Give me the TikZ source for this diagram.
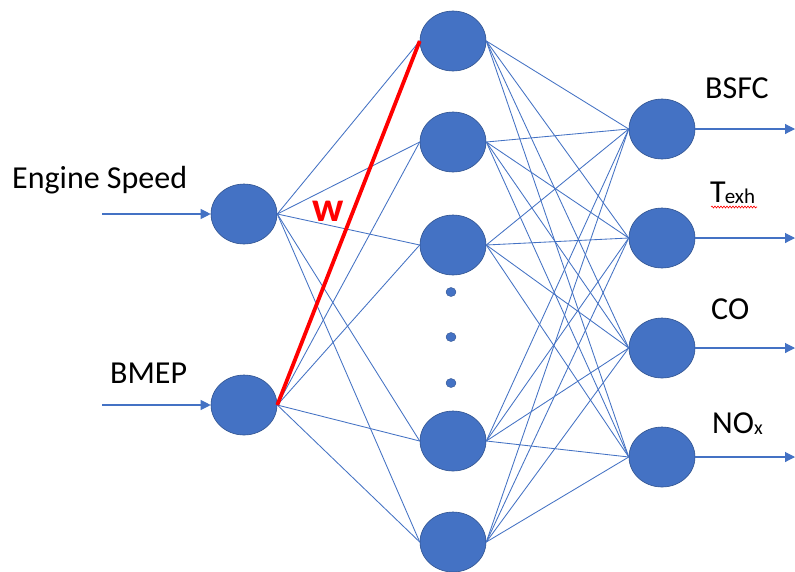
\documentclass[tikz,border=0pt]{standalone}
\usepackage{fontspec}
\setmainfont{Carlito}
\usetikzlibrary{arrows.meta,shapes.geometric,decorations.pathmorphing}
\definecolor{neuronfill}{HTML}{4472C4}
\definecolor{neuronrim}{HTML}{2F528F}
\definecolor{linkblue}{HTML}{4472C4}

\begin{document}
\begin{tikzpicture}[x=1pt,y=-1pt,
  neuron/.style={ellipse, fill=neuronfill, draw=neuronrim, line width=0.6pt,
    minimum width=66pt, minimum height=60pt, inner sep=0pt},
  dotnode/.style={ellipse, fill=neuronfill, draw=neuronrim, line width=0.4pt,
    minimum width=10pt, minimum height=9pt, inner sep=0pt},
  link/.style={draw=linkblue, line width=0.85pt},
  flow/.style={draw=linkblue, line width=1.1pt, -{Triangle[length=10pt,width=10pt]}},
  lbl/.style={anchor=base west, inner sep=0pt, font=\fontsize{32}{38}\selectfont, text=black},
  weight/.style={draw=red, line width=3.8pt}
]
\fill[white] (0,0) rectangle (795,571);
\useasboundingbox (0,0) rectangle (795,571);

% input layer
\node[neuron] (i1) at (244,214) {};
\node[neuron] (i2) at (244,405) {};

% hidden layer
\node[neuron] (h1) at (453,41) {};
\node[neuron] (h2) at (453,142) {};
\node[neuron] (h3) at (453,245) {};
\node[neuron] (h4) at (453,441) {};
\node[neuron] (h5) at (453,542) {};
\node[dotnode] (d1) at (451,292) {};
\node[dotnode] (d2) at (451,337) {};
\node[dotnode] (d3) at (451,383) {};

% output layer
\node[neuron] (o1) at (662,129) {};
\node[neuron] (o2) at (662,238) {};
\node[neuron] (o3) at (662,348) {};
\node[neuron] (o4) at (662,457) {};

% input -> hidden
\foreach \i in {i1,i2}
  \foreach \h in {h1,h2,h3,h4,h5}
    \draw[link] (\i.east) -- (\h.west);

% hidden -> output
\foreach \h in {h1,h2,h3,h4,h5}
  \foreach \o in {o1,o2,o3,o4}
    \draw[link] (\h.east) -- (\o.west);

% highlighted weight
\draw[weight] (i2.east) -- (h1.west);
\node[text=red, inner sep=0pt, font=\fontsize{42}{42}\selectfont\bfseries] (w) at (328,211) {w};

% input arrows
\coordinate (s1) at (102,214);
\coordinate (s2) at (102,405);
\draw[flow] (s1) -- (i1.west);
\draw[flow] (s2) -- (i2.west);

% output arrows
\coordinate (t1) at (795,129);
\coordinate (t2) at (795,238);
\coordinate (t3) at (795,348);
\coordinate (t4) at (795,457);
\draw[flow] (o1.east) -- (t1);
\draw[flow] (o2.east) -- (t2);
\draw[flow] (o3.east) -- (t3);
\draw[flow] (o4.east) -- (t4);

% labels
\node[lbl] (lspeed) at (12,188) {Engine Speed};
\node[lbl] (lbmep) at (110,383) {BMEP};
\node[lbl] (lbsfc) at (705,98) {BSFC};
\node[lbl] (ltexh) at (710,202) {T\kern-1pt\raisebox{-1pt}{\fontsize{21}{21}\selectfont exh}};
\node[lbl] (lco) at (711,319) {CO};
\node[lbl] (lnox) at (712,433) {NO\raisebox{-1pt}{\fontsize{20}{20}\selectfont x}};
\coordinate (sq1) at (711,207);
\coordinate (sq2) at (757,207);
\draw[red, line width=0.6pt, decorate, decoration={snake, segment length=3pt, amplitude=1pt}] (sq1) -- (sq2);
\end{tikzpicture}
\end{document}
